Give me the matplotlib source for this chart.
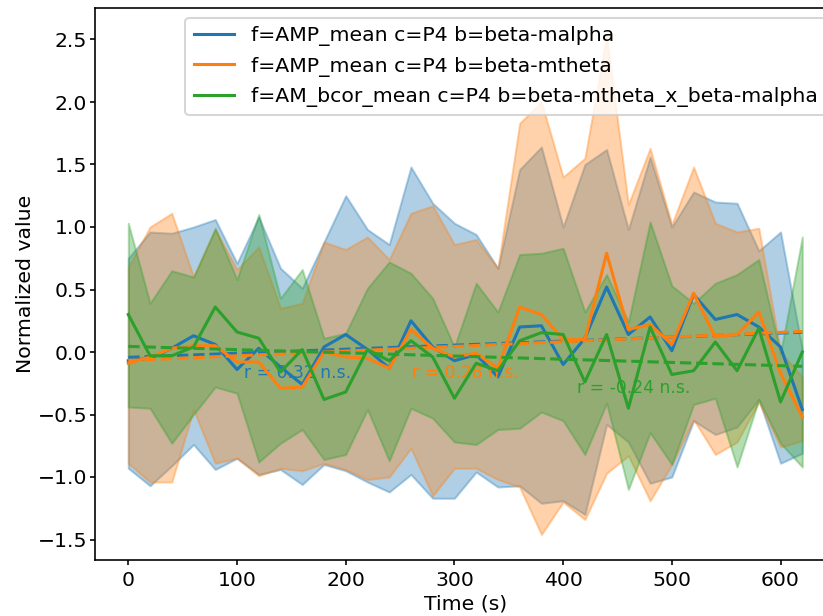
import numpy as np
import matplotlib
matplotlib.use("Agg")
import matplotlib.pyplot as plt

time_s = list(range(0, 640, 20))

labels = ["f=AMP_mean c=P4 b=beta-malpha",
          "f=AMP_mean c=P4 b=beta-mtheta",
          "f=AM_bcor_mean c=P4 b=beta-mtheta_x_beta-malpha"]
r_texts = ["r = 0.32 n.s.", "r = 0.28 n.s.", "r = -0.24 n.s."]

malpha_mean = [-0.07, -0.05, 0.03, 0.13, 0.06, -0.14, 0.03, -0.12, -0.26, 0.04,
               0.14, 0.02, -0.13, 0.25, 0.04, -0.07, -0.02, -0.20, 0.20, 0.21,
               -0.10, 0.11, 0.52, 0.14, 0.28, 0.01, 0.46, 0.26, 0.30, 0.20,
               0.04, -0.46]
malpha_upper = [0.75, 0.96, 0.95, 1.00, 1.06, 0.71, 1.08, 0.67, 0.51, 0.88,
                1.25, 0.98, 0.86, 1.48, 1.19, 1.03, 0.94, 0.67, 1.46, 1.64,
                1.00, 1.50, 1.62, 0.98, 1.56, 1.00, 1.28, 1.20, 1.19, 0.81,
                0.96, 0.02]
malpha_lower = [-0.93, -1.07, -0.91, -0.74, -0.94, -0.85, -0.98, -0.94, -1.06, -0.90,
                -0.95, -1.04, -1.12, -0.98, -1.17, -1.17, -0.96, -1.08, -1.07, -1.21,
                -1.19, -1.30, -0.58, -0.72, -1.05, -1.00, -0.55, -0.66, -0.60, -0.38,
                -0.89, -0.81]

mtheta_mean = [-0.09, -0.04, 0.03, 0.05, 0.05, -0.08, -0.08, -0.29, -0.28, 0.00,
               -0.04, -0.05, -0.13, 0.18, 0.03, -0.04, -0.01, -0.13, 0.36, 0.30,
               0.10, 0.10, 0.79, 0.18, 0.22, 0.06, 0.47, 0.12, 0.14, 0.32,
               -0.17, -0.52]
mtheta_upper = [0.68, 1.00, 1.11, 0.60, 0.98, 0.66, 0.84, 0.35, 0.39, 0.88,
                0.82, 0.92, 0.74, 1.11, 1.17, 0.86, 0.90, 0.67, 1.83, 2.00,
                1.40, 1.55, 2.53, 1.18, 1.63, 1.02, 1.48, 1.03, 0.96, 0.99,
                0.00, -0.20]
mtheta_lower = [-0.89, -1.04, -1.04, -0.46, -0.89, -0.85, -0.99, -0.93, -0.95, -0.89,
                -0.94, -1.02, -1.00, -0.77, -1.15, -0.93, -0.93, -1.02, -1.08, -1.46,
                -1.20, -1.34, -0.97, -0.83, -1.19, -0.90, -0.54, -0.82, -0.72, -0.40,
                -0.76, -0.71]

bcor_mean = [0.30, -0.03, -0.03, 0.04, 0.36, 0.16, 0.11, -0.16, 0.02, -0.38,
             -0.32, 0.02, -0.07, 0.09, -0.04, -0.37, -0.09, -0.15, 0.09, 0.155,
             0.14, -0.24, 0.14, -0.45, 0.20, -0.18, -0.15, 0.08, -0.15, 0.19,
             -0.40, 0.00]
bcor_upper = [1.03, 0.39, 0.65, 0.60, 0.99, 0.58, 1.10, 0.43, 0.66, 0.11,
              0.15, 0.51, 0.72, 0.63, 0.43, 0.04, 0.55, 0.32, 0.78, 0.79,
              0.83, 0.32, 0.62, 0.24, 1.04, 0.53, 0.39, 0.55, 0.62, 0.74,
              -0.01, 0.92]
bcor_lower = [-0.44, -0.45, -0.73, -0.50, -0.28, -0.33, -0.88, -0.73, -0.62, -0.86,
              -0.82, -0.46, -0.87, -0.45, -0.53, -0.72, -0.74, -0.62, -0.61, -0.48,
              -0.55, -0.82, -0.41, -1.10, -0.645, -0.90, -0.42, -0.37, -0.92, -0.38,
              -0.73, -0.92]

text_x = [106, 261, 413]
text_y = [-0.165, -0.17, -0.29]
colors = ["#1f77b4", "#ff7f0e", "#2ca02c"]

means = [malpha_mean, mtheta_mean, bcor_mean]
uppers = [malpha_upper, mtheta_upper, bcor_upper]
lowers = [malpha_lower, mtheta_lower, bcor_lower]

DPI = 147
fig = plt.figure(figsize=(823 / DPI, 616 / DPI), dpi=DPI)
ax = fig.add_axes([94.6 / 823, 56 / 616, 741.4 / 823, 552 / 616])

x = np.array(time_s, dtype=float)
for i in range(3):
    m = np.array(means[i])
    ax.fill_between(x, lowers[i], uppers[i], color=colors[i], alpha=0.35, zorder=1)
    ax.plot(x, m, color=colors[i], lw=1.5, label=labels[i], zorder=2)
    k, b = np.polyfit(x, m, 1)
    ax.plot(x, k * x + b, color=colors[i], lw=1.5, ls="--", zorder=2)
    ax.text(text_x[i], text_y[i], r_texts[i], color=colors[i], fontsize=8.4,
            ha="left", va="center", zorder=2)

ax.set_xlim(-31, 651)
ax.set_ylim(-1.664, 2.752)
ax.tick_params(axis="x", length=2.5, pad=3.0)
ax.tick_params(axis="y", length=2.5, pad=1.2)
ax.set_xlabel("Time (s)", labelpad=2)
ax.set_ylabel("Normalized value", labelpad=1.2)
ax.legend(loc="upper right")

fig.savefig("out.png", dpi=DPI)
